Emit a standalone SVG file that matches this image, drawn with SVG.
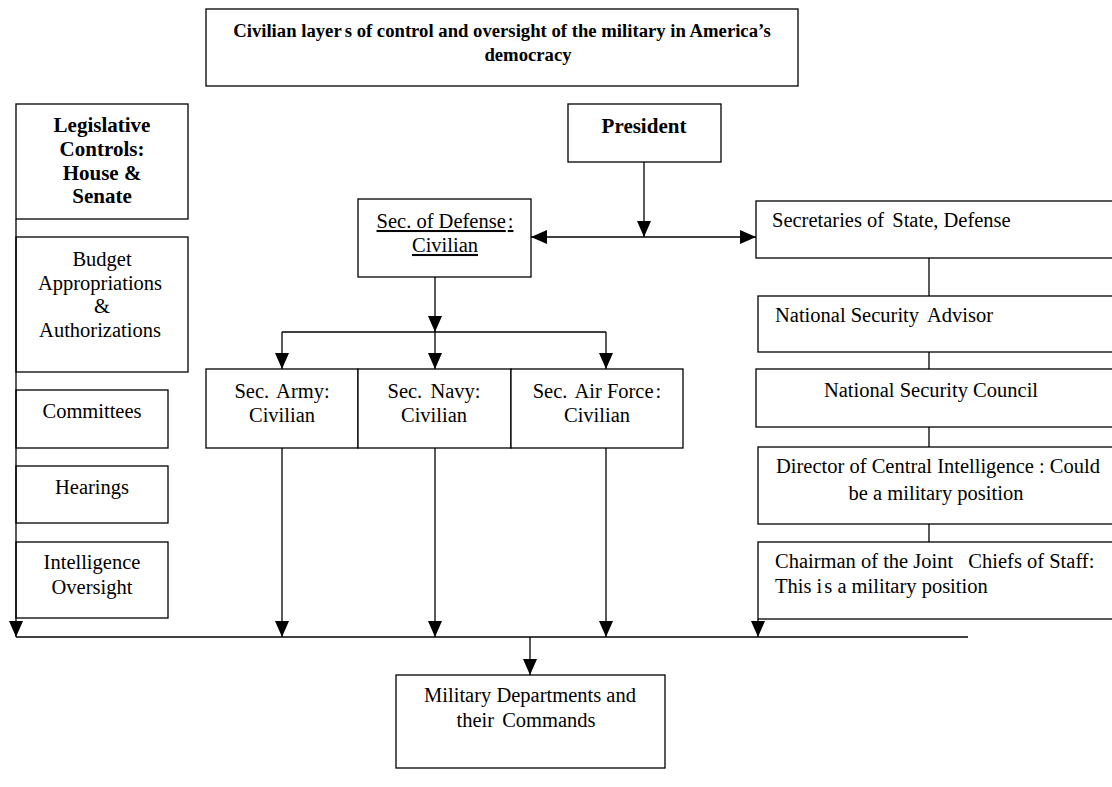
<svg xmlns="http://www.w3.org/2000/svg" width="1112" height="787" viewBox="0 0 1112 787">
<style>
.box{fill:#fff;stroke:#000;stroke-width:1.3}
.t{font-family:"Liberation Serif","Times New Roman",serif;font-size:20.5px;fill:#000}
.b{font-weight:bold;font-size:21px}
.c{text-anchor:middle}
.u{text-decoration:underline}
.ln{fill:none;stroke:#000;stroke-width:1.3}
</style>
<defs>
<marker id="ah" markerUnits="userSpaceOnUse" markerWidth="16" markerHeight="16" viewBox="0 0 16 16" refX="16" refY="8" orient="auto">
<path d="M0,1 L16,8 L0,15 Z" fill="#000"/>
</marker>
</defs>
<rect width="1112" height="787" fill="#fff"/>

<g id="title">
<rect class="box" x="206" y="9" width="592" height="77"/>
<text class="t b c" x="502" y="37" style="font-size:18.7px">Civilian layer<tspan dx="3">s</tspan> of control and oversight of the military in America’s</text>
<text class="t b c" x="528" y="61" style="font-size:18.7px">democracy</text>
</g>

<g id="legislative">
<rect class="box" x="16" y="104" width="172" height="115"/>
<text class="t b c" x="102" y="132">Legislative</text>
<text class="t b c" x="102" y="156">Controls:</text>
<text class="t b c" x="102" y="180">House &amp;</text>
<text class="t b c" x="102" y="203">Senate</text>
</g>

<g id="budget">
<rect class="box" x="16" y="237" width="172" height="135"/>
<text class="t c" x="102" y="266">Budget</text>
<text class="t c" x="100" y="290">Appropriations</text>
<text class="t c" x="102" y="313">&amp;</text>
<text class="t c" x="100" y="337">Authorizations</text>
</g>

<g id="committees">
<rect class="box" x="16" y="390" width="152" height="58"/>
<text class="t c" x="92" y="418">Committees</text>
</g>

<g id="hearings">
<rect class="box" x="16" y="466" width="152" height="57"/>
<text class="t c" x="92" y="494">Hearings</text>
</g>

<g id="intelligence">
<rect class="box" x="16" y="542" width="152" height="76"/>
<text class="t c" x="92" y="569">Intelligence</text>
<text class="t c" x="92" y="594">Oversight</text>
</g>

<g id="president">
<rect class="box" x="568" y="104" width="153" height="58"/>
<text class="t b c" x="644" y="133">President</text>
</g>

<g id="secdef">
<rect class="box" x="358" y="199" width="173" height="78"/>
<text class="t c u" x="445" y="228">Sec. of Defense<tspan dx="2">:</tspan></text>
<text class="t c u" x="445" y="252">Civilian</text>
</g>

<g id="secarmy">
<rect class="box" x="206" y="369" width="152" height="79"/>
<text class="t c" x="282" y="398">Sec. <tspan dx="3">Army:</tspan></text>
<text class="t c" x="282" y="422">Civilian</text>
</g>

<g id="secnavy">
<rect class="box" x="358" y="369" width="153" height="79"/>
<text class="t c" x="434" y="398">Sec. <tspan dx="3">Navy:</tspan></text>
<text class="t c" x="434" y="422">Civilian</text>
</g>

<g id="secairforce">
<rect class="box" x="511" y="369" width="172" height="79"/>
<text class="t c" x="597" y="398">Sec. <tspan dx="3">Air Force</tspan><tspan dx="2">:</tspan></text>
<text class="t c" x="597" y="422">Civilian</text>
</g>

<g id="secretaries">
<rect class="box" x="756" y="201" width="370" height="57"/>
<text class="t" x="772" y="227">Secretaries of <tspan dx="3">State, Defense</tspan></text>
</g>

<g id="nsa">
<rect class="box" x="758" y="296" width="370" height="56"/>
<text class="t" x="775" y="322">National Security <tspan dx="4">Advisor</tspan></text>
</g>

<g id="nsc">
<rect class="box" x="756" y="369" width="370" height="58"/>
<text class="t c" x="931" y="397">National Security Council</text>
</g>

<g id="dci">
<rect class="box" x="758" y="447" width="370" height="77"/>
<text class="t c" x="938" y="473">Director of Central Intelligence : Could</text>
<text class="t c" x="936" y="500">be a military position</text>
</g>

<g id="cjcs">
<rect class="box" x="758" y="542" width="370" height="77"/>
<text class="t" x="775" y="568">Chairman of the Joint <tspan dx="10">Chiefs of Staff:</tspan></text>
<text class="t" x="775" y="593">This i<tspan dx="2">s a military position</tspan></text>
</g>

<g id="military">
<rect class="box" x="396" y="675" width="269" height="93"/>
<text class="t c" x="530" y="702">Military Departments and</text>
<text class="t c" x="526" y="727">their <tspan dx="3">Commands</tspan></text>
</g>

<g id="connectors">
<line class="ln" x1="16" y1="219" x2="16" y2="637" marker-end="url(#ah)"/>
<line class="ln" x1="16" y1="637" x2="968" y2="637"/>
<line class="ln" x1="282" y1="448" x2="282" y2="637" marker-end="url(#ah)"/>
<line class="ln" x1="435" y1="448" x2="435" y2="637" marker-end="url(#ah)"/>
<line class="ln" x1="606" y1="448" x2="606" y2="637" marker-end="url(#ah)"/>
<line class="ln" x1="758" y1="619" x2="758" y2="637" marker-end="url(#ah)"/>
<line class="ln" x1="530" y1="637" x2="530" y2="675" marker-end="url(#ah)"/>
<line class="ln" x1="644" y1="162" x2="644" y2="237" marker-end="url(#ah)"/>
<line class="ln" x1="644" y1="237" x2="531" y2="237" marker-end="url(#ah)"/>
<line class="ln" x1="644" y1="237" x2="756" y2="237" marker-end="url(#ah)"/>
<line class="ln" x1="435" y1="277" x2="435" y2="332" marker-end="url(#ah)"/>
<line class="ln" x1="282" y1="332" x2="606" y2="332"/>
<line class="ln" x1="282" y1="332" x2="282" y2="369" marker-end="url(#ah)"/>
<line class="ln" x1="435" y1="332" x2="435" y2="369" marker-end="url(#ah)"/>
<line class="ln" x1="606" y1="332" x2="606" y2="369" marker-end="url(#ah)"/>
<line class="ln" x1="929" y1="258" x2="929" y2="296"/>
<line class="ln" x1="929" y1="352" x2="929" y2="369"/>
<line class="ln" x1="929" y1="427" x2="929" y2="447"/>
<line class="ln" x1="929" y1="524" x2="929" y2="542"/>
</g>
</svg>
